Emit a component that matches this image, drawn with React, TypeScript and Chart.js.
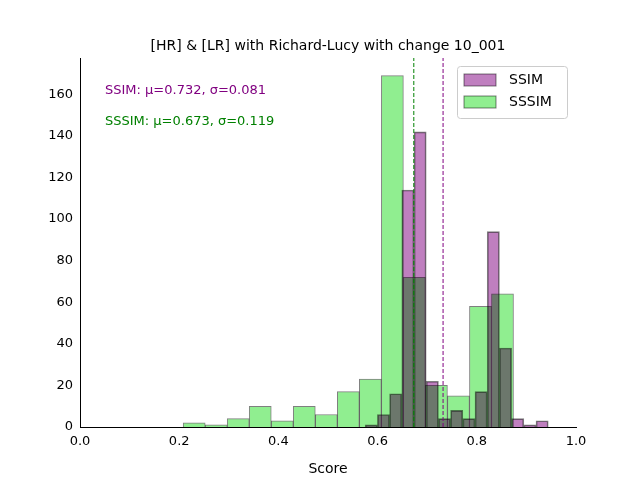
import { useEffect, useRef } from 'react';
import { Chart, registerables } from 'chart.js';

Chart.register(...registerables);

const FONT = 'DejaVu Sans, sans-serif';

// histogram bins: left edge, width, counts
const SSIM_START = 0.575;
const SSIM_WIDTH = 0.0246;
const SSIM_COUNTS = [1, 6, 16, 114, 142, 22, 4, 8, 4, 17, 94, 38, 4, 1, 3];

const SSSIM_START = 0.208;
const SSSIM_WIDTH = 0.0444;
const SSSIM_COUNTS = [2, 1, 4, 10, 3, 10, 6, 17, 23, 169, 72, 20, 15, 58, 64];

const SSIM_MEAN = 0.732;
const SSSIM_MEAN = 0.673;
const Y_MAX = 177.5;

const toPoints = (start: number, w: number, counts: number[]) =>
  counts.map((c, i) => ({ x: start + w * (i + 0.5), y: c }));

// SSIM bars are blended with multiply so the overlap reads dark green
const blend = {
  id: 'blend',
  beforeDatasetDraw(chart: any, args: any) {
    if (chart.data.datasets[args.index].label === 'SSIM') {
      chart.ctx.save();
      chart.ctx.globalCompositeOperation = 'multiply';
    }
  },
  afterDatasetDraw(chart: any, args: any) {
    if (chart.data.datasets[args.index].label === 'SSIM') chart.ctx.restore();
  },
};

const overlay = {
  id: 'overlay',
  afterDraw(chart: any) {
    const { ctx, chartArea: a } = chart;
    ctx.save();
    ctx.fillStyle = '#000';
    ctx.font = `14px ${FONT}`;
    ctx.textAlign = 'center';
    ctx.fillText('[HR] & [LR] with Richard-Lucy with change 10_001', (a.left + a.right) / 2, a.top - 8);
    ctx.textAlign = 'left';
    ctx.font = `13px ${FONT}`;
    ctx.fillStyle = 'purple';
    ctx.fillText('SSIM: μ=0.732, σ=0.081', 105, 94);
    ctx.fillStyle = 'green';
    ctx.fillText('SSSIM: μ=0.673, σ=0.119', 105, 125);
    // legend
    const lx = 457, ly = 66;
    ctx.fillStyle = '#fff';
    ctx.strokeStyle = '#ccc';
    ctx.lineWidth = 1;
    ctx.beginPath();
    ctx.roundRect(lx + 0.5, ly + 0.5, 110, 52, 3);
    ctx.fill();
    ctx.stroke();
    const items: [string, string][] = [['SSIM', 'rgba(128,0,128,0.5)'], ['SSSIM', 'rgb(144,238,144)']];
    items.forEach(([label, color], i) => {
      const y = ly + 8 + i * 22;
      ctx.fillStyle = color;
      ctx.fillRect(lx + 7, y, 32, 12);
      ctx.strokeStyle = 'rgba(0,0,0,0.5)';
      ctx.strokeRect(lx + 7, y, 32, 12);
      ctx.fillStyle = '#000';
      ctx.font = `14px ${FONT}`;
      ctx.textBaseline = 'middle';
      ctx.fillText(label, lx + 52, y + 6);
    });
    ctx.restore();
  },
};

export default function App() {
  const canvasRef = useRef<HTMLCanvasElement>(null);

  useEffect(() => {
    if (!canvasRef.current) return;
    Chart.getChart(canvasRef.current)?.destroy();

    const barStyle = {
      borderColor: 'rgba(0,0,0,0.5)',
      borderWidth: 1,
      barPercentage: 1,
      categoryPercentage: 1,
      grouped: false,
    };

    const chart = new Chart(canvasRef.current, {
      type: 'bar',
      data: {
        datasets: [
          {
            type: 'line' as const,
            data: [{ x: SSIM_MEAN, y: 0 }, { x: SSIM_MEAN, y: Y_MAX }],
            borderColor: '#800080', borderWidth: 1, borderDash: [4, 2], pointRadius: 0, order: 0,
          },
          {
            type: 'line' as const,
            data: [{ x: SSSIM_MEAN, y: 0 }, { x: SSSIM_MEAN, y: Y_MAX }],
            borderColor: '#008000', borderWidth: 1, borderDash: [4, 2], pointRadius: 0, order: 0,
          },
          {
            label: 'SSSIM',
            data: toPoints(SSSIM_START, SSSIM_WIDTH, SSSIM_COUNTS),
            backgroundColor: 'rgb(144,238,144)',
            xAxisID: 'x2',
            order: 3,
            ...barStyle,
          },
          {
            label: 'SSIM',
            data: toPoints(SSIM_START, SSIM_WIDTH, SSIM_COUNTS),
            backgroundColor: 'rgba(128,0,128,0.5)',
            order: 2,
            ...barStyle,
          },
        ],
      } as any,
      options: {
        animation: false,
        responsive: false,
        layout: { padding: { top: 58, right: 64, left: 0, bottom: 0 } },
        plugins: { legend: { display: false }, tooltip: { enabled: false } },
        scales: {
          x: {
            type: 'linear', min: 0, max: 1, offset: false,
            grid: { display: false, tickLength: 4 },
            border: { color: '#000' },
            ticks: { stepSize: 0.2, color: '#000', font: { family: FONT, size: 13 }, callback: (v: any) => Number(v).toFixed(1) },
            title: { display: true, text: 'Score', color: '#000', font: { family: FONT, size: 14 }, padding: 2 },
            afterFit: (s: any) => { s.height = 53; },
          },
          x2: { type: 'linear', min: 0, max: 1, offset: false, display: false },
          y: {
            min: 0, max: Y_MAX,
            grid: { display: false, tickLength: 4 },
            border: { color: '#000' },
            ticks: { stepSize: 20, color: '#000', font: { family: FONT, size: 13 } },
            afterBuildTicks: (s: any) => { s.ticks = s.ticks.filter((t: any) => t.value % 20 === 0); },
            afterFit: (s: any) => { s.width = 80; },
          },
        },
      } as any,
      plugins: [blend, overlay],
    });

    return () => chart.destroy();
  }, []);

  return (
    <canvas
      ref={canvasRef}
      width={640}
      height={480}
      style={{ position: 'fixed', left: 0, top: 0, width: 640, height: 480, background: '#fff' }}
    />
  );
}
